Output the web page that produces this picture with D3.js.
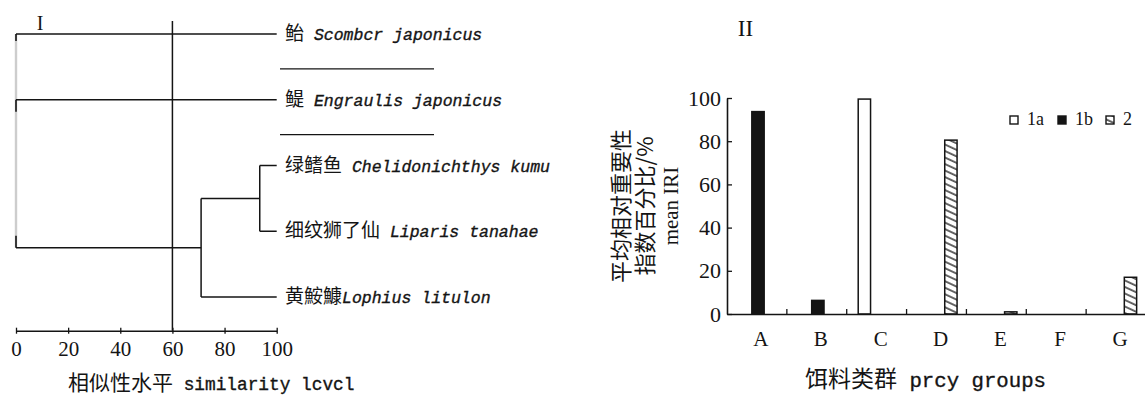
<!DOCTYPE html>
<html>
<head>
<meta charset="utf-8">
<script src="https://cdn.jsdelivr.net/npm/d3@7"></script>
<style>
  html, body { margin: 0; padding: 0; background: #fff; }
  svg { display: block; }
</style>
</head>
<body>
<svg id="fig" width="1145" height="397"></svg>
<script>
// ---- Panel I: cluster dendrogram of diet similarity ----
const speciesCN = ["鲐", "鳀", "绿鳍鱼", "细纹狮了仙", "黄鮟鱇"];
const speciesLatin = [" Scombcr japonicus", " Engraulis japonicus", " Chelidonichthys kumu", " Liparis tanahae", "Lophius litulon"];
// each join lists its children: leaves (L#) or earlier joins (J#)
const joinChildren = [["L2", "L3"], ["J0", "L4"], ["L0", "L1", "J1"]];
const joinSimilarity = [93.5, 71, 0];
const cutLevel = 60;
const similarityTicks = [0, 20, 40, 60, 80, 100];

// ---- Panel II: mean IRI (%) of prey groups per feeding group ----
const preyGroups = ["A", "B", "C", "D", "E", "F", "G"];
const feedingGroups = ["1a", "1b", "2"];
const iri1a = [0, 0, 99.5, 0, 0, 0, 0];
const iri1b = [93.7, 6.3, 0, 0, 0, 0, 0];
const iri2 = [0, 0, 0, 80.5, 1, 0, 17];
const iriTicks = [0, 20, 40, 60, 80, 100];

const SERIF = "'Liberation Serif','DejaVu Serif',serif";
const MONO = "'Liberation Mono','DejaVu Sans Mono',monospace";
const CJK = "'Noto Sans CJK SC','Noto Sans CJK TC',sans-serif";
const INK = "#141414";

const svg = d3.select("#fig");

// hatch used by feeding group 2
const defs = svg.append("defs");
const hatch = defs.append("pattern")
  .attr("id", "hatch")
  .attr("patternUnits", "userSpaceOnUse")
  .attr("width", 10).attr("height", 5.9)
  .attr("patternTransform", "rotate(25)");
hatch.append("rect").attr("width", 10).attr("height", 5.9).attr("fill", "#fff");
hatch.append("line").attr("x1", -1).attr("x2", 11).attr("y1", 3).attr("y2", 3)
  .attr("stroke", INK).attr("stroke-width", 1.3);

// monospaced Latin is drawn slightly heavier
function monoSpan(sel, size, italic) {
  return sel.append("tspan")
    .attr("font-family", MONO)
    .attr("font-size", size)
    .attr("font-style", italic ? "italic" : "normal")
    .attr("stroke", INK).attr("stroke-width", 0.35);
}

/* ================= Panel I ================= */
const p1 = svg.append("g");
const xs = d3.scaleLinear([0, 100], [16, 276.7]);
const yLeaf = d3.scalePoint(d3.range(speciesCN.length), [34, 297]);

const nodePos = {};
speciesCN.forEach((_, i) => { nodePos["L" + i] = { x: xs(100), y: yLeaf(i) }; });
joinChildren.forEach((kids, k) => {
  const ys = kids.map(c => nodePos[c].y);
  nodePos["J" + k] = { x: xs(joinSimilarity[k]), y: (d3.min(ys) + d3.max(ys)) / 2, y0: d3.min(ys), y1: d3.max(ys) };
});

const rootKey = "J" + (joinChildren.length - 1);

// faint root connector with dark ends
const root = nodePos[rootKey];
p1.append("line")
  .attr("x1", root.x).attr("x2", root.x).attr("y1", root.y0).attr("y2", root.y1)
  .attr("stroke", "#cdcdcd").attr("stroke-width", 2.4);
const rootKids = joinChildren[joinChildren.length - 1];
rootKids.forEach((c, i) => {
  const yy = nodePos[c].y;
  const len = i === 0 ? 7 : 12;
  const dir = i === rootKids.length - 1 ? -1 : 1;
  p1.append("line")
    .attr("x1", root.x).attr("x2", root.x).attr("y1", yy).attr("y2", yy + dir * len)
    .attr("stroke", INK).attr("stroke-width", 1.6);
});

// elbows
joinChildren.forEach((kids, k) => {
  const n = nodePos["J" + k];
  if ("J" + k !== rootKey) {
    p1.append("line")
      .attr("x1", n.x).attr("x2", n.x).attr("y1", n.y0).attr("y2", n.y1)
      .attr("stroke", INK).attr("stroke-width", 1.5);
  }
  kids.forEach(c => {
    p1.append("line")
      .attr("x1", n.x).attr("x2", nodePos[c].x).attr("y1", nodePos[c].y).attr("y2", nodePos[c].y)
      .attr("stroke", INK).attr("stroke-width", 1.5);
  });
});

// similarity axis
const axisY = 330.7;
const ax1 = p1.append("g")
  .attr("transform", `translate(0,${axisY})`)
  .call(d3.axisBottom(xs).tickValues(similarityTicks).tickSize(-3).tickSizeOuter(0).tickPadding(10));
ax1.select(".domain").attr("stroke", INK).attr("stroke-width", 1.5);
ax1.selectAll(".tick line").attr("y1", 3).attr("stroke", INK).attr("stroke-width", 1.3);
ax1.selectAll(".tick text")
  .attr("font-family", SERIF).attr("font-size", 21).attr("fill", INK);

// cut-off line at 60 % similarity
p1.append("line")
  .attr("x1", xs(cutLevel)).attr("x2", xs(cutLevel)).attr("y1", 21).attr("y2", axisY)
  .attr("stroke", INK).attr("stroke-width", 1.5);

// species labels
p1.selectAll("text.leaf")
  .data(d3.range(speciesCN.length))
  .join("text")
  .attr("class", "leaf")
  .attr("x", 285)
  .attr("y", i => yLeaf(i) + 6)
  .style("white-space", "pre")
  .attr("fill", INK)
  .each(function (i) {
    const t = d3.select(this);
    t.append("tspan").attr("font-family", CJK).attr("font-size", 19).text(speciesCN[i]);
    monoSpan(t, 16.5, true).text(speciesLatin[i]);
  });

// rules between the first labels
[0, 1].forEach(i => {
  const yy = (yLeaf(i) + yLeaf(i + 1)) / 2 + 2;
  p1.append("line")
    .attr("x1", 280).attr("x2", 434).attr("y1", yy).attr("y2", yy)
    .attr("stroke", INK).attr("stroke-width", 1.3);
});

// panel mark and axis title
p1.append("text").attr("x", 40).attr("y", 30).attr("text-anchor", "middle")
  .attr("font-family", SERIF).attr("font-size", 20).attr("fill", INK).text("I");

const t1 = p1.append("text").attr("x", 68).attr("y", 390).attr("fill", INK).style("white-space", "pre");
t1.append("tspan").attr("font-family", CJK).attr("font-size", 21).text("相似性水平");
monoSpan(t1, 17.8, false).text(" similarity lcvcl");

/* ================= Panel II ================= */
const p2 = svg.append("g");
const x = d3.scaleBand(preyGroups, [727, 1146]).padding(0);
const x1 = d3.scaleBand(feedingGroups, [11, 51]).padding(0);
const y = d3.scaleLinear([0, 100], [314, 98]);

const seriesValues = { "1a": iri1a, "1b": iri1b, "2": iri2 };
const seriesFill = { "1a": "#fff", "1b": INK, "2": "url(#hatch)" };

const bars = [];
feedingGroups.forEach(s => {
  seriesValues[s].forEach((v, i) => { if (v > 0) bars.push({ series: s, group: preyGroups[i], value: v }); });
});

p2.selectAll("rect.bar")
  .data(bars)
  .join("rect")
  .attr("class", "bar")
  .attr("x", d => x(d.group) + x1(d.series) + 0.5)
  .attr("width", x1.bandwidth() - 1)
  .attr("y", d => y(d.value))
  .attr("height", d => y(0) - y(d.value))
  .attr("fill", d => seriesFill[d.series])
  .attr("stroke", INK)
  .attr("stroke-width", 1.5);

// y axis
const ay = p2.append("g")
  .attr("transform", `translate(${x.range()[0]},0)`)
  .call(d3.axisLeft(y).tickValues(iriTicks).tickSize(-5).tickSizeOuter(0).tickPadding(6));
ay.select(".domain").attr("stroke", INK).attr("stroke-width", 1.6);
ay.selectAll(".tick line").attr("stroke", INK).attr("stroke-width", 1.3);
ay.selectAll(".tick text").attr("font-family", SERIF).attr("font-size", 22).attr("fill", INK);

// x axis: category labels, boundary ticks
const axb = p2.append("g")
  .attr("transform", `translate(0,${y(0)})`)
  .call(d3.axisBottom(x).tickSize(0).tickPadding(17));
axb.select(".domain").attr("stroke", INK).attr("stroke-width", 1.6);
axb.selectAll(".tick text").attr("dx", 4)
  .attr("font-family", SERIF).attr("font-size", 21).attr("fill", INK);
p2.selectAll("line.sep")
  .data(preyGroups.slice(1))
  .join("line")
  .attr("class", "sep")
  .attr("x1", d => x(d)).attr("x2", d => x(d))
  .attr("y1", y(0)).attr("y2", y(0) - 5)
  .attr("stroke", INK).attr("stroke-width", 1.3);

// y axis title (three rotated lines)
const yTitle = [
  { text: "平均相对重要性", cx: 629, font: CJK, size: 22 },
  { text: "指数百分比/%", cx: 653, font: CJK, size: 22 },
  { text: "mean IRI", cx: 678, font: SERIF, size: 21 }
];
p2.selectAll("text.ytitle")
  .data(yTitle)
  .join("text")
  .attr("class", "ytitle")
  .attr("transform", d => `translate(${d.cx},${(y(0) + y(100)) / 2}) rotate(-90)`)
  .attr("text-anchor", "middle")
  .attr("font-family", d => d.font)
  .attr("font-size", d => d.size)
  .attr("fill", INK)
  .text(d => d.text);

// x axis title
const t2 = p2.append("text").attr("x", 805).attr("y", 387).attr("fill", INK).style("white-space", "pre");
t2.append("tspan").attr("font-family", CJK).attr("font-size", 23).text("饵料类群");
monoSpan(t2, 20.7, false).text(" prcy groups");

// panel mark
p2.append("text").attr("x", 745.5).attr("y", 36).attr("text-anchor", "middle")
  .attr("font-family", SERIF).attr("font-size", 23).attr("fill", INK).text("II");

// legend
const lg = p2.selectAll("g.legend")
  .data(feedingGroups)
  .join("g")
  .attr("class", "legend")
  .attr("transform", (d, i) => `translate(${1010 + i * 48},116)`);
lg.append("rect")
  .attr("width", 8).attr("height", 8)
  .attr("fill", d => seriesFill[d])
  .attr("stroke", INK).attr("stroke-width", 1.4);
lg.append("text")
  .attr("x", 17).attr("y", 8.5)
  .attr("font-family", SERIF).attr("font-size", 18).attr("fill", INK)
  .text(d => d);
</script>
</body>
</html>
